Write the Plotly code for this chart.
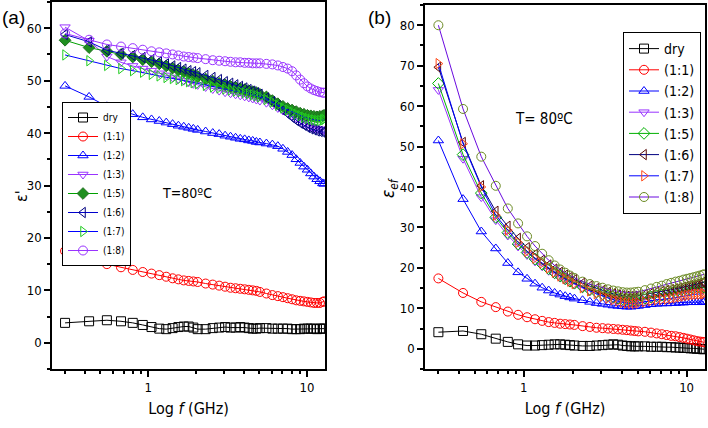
import plotly.graph_objects as go

# Frequency grid (GHz)
freq = [0.3, 0.425, 0.55, 0.675, 0.8, 0.925, 1.05, 1.175, 1.3, 1.425, 1.55, 1.675, 1.8, 1.925, 2.05,
        2.3, 2.55, 2.8, 3.05, 3.3, 3.55, 3.8, 4.05, 4.3, 4.55, 4.8, 5.05,
        5.55, 6.05, 6.55, 7.05, 7.55, 8.05, 8.55, 9.05, 9.55, 10.05, 10.55, 11.05, 11.55, 12.05, 12.55,
        12.8]

labels = ["dry", "(1:1)", "(1:2)", "(1:3)", "(1:5)", "(1:6)", "(1:7)", "(1:8)"]

# Panel (a): epsilon'
a_dry = [3.8, 4.1, 4.3, 4.1, 3.8, 3.4, 3.0, 2.7, 2.6, 2.8, 3.0, 3.1, 3.1, 2.9, 2.6,
         2.6, 2.8, 2.9, 3.0, 2.9, 2.9, 3.0, 2.9, 2.8, 2.7, 2.7, 2.8,
         2.8, 2.7, 2.7, 2.7, 2.7, 2.6, 2.6, 2.6, 2.7, 2.7, 2.7, 2.7, 2.6, 2.7, 2.7,
         2.7]
a_11 = [17.5, 16.0, 15.0, 14.4, 13.9, 13.5, 13.2, 12.9, 12.6, 12.3, 12.1, 11.9, 11.8, 11.7, 11.6,
        11.3, 11.1, 10.9, 10.7, 10.5, 10.4, 10.3, 10.2, 10.1, 10.0, 9.9, 9.7,
        9.4, 9.1, 8.9, 8.7, 8.5, 8.3, 8.1, 8.0, 7.9, 7.8, 7.7, 7.6, 7.6, 7.6, 7.8,
        7.9]
a_12 = [49.0, 46.9, 45.1, 44.2, 43.6, 43.0, 42.6, 42.3, 42.0, 41.7, 41.4, 41.2, 41.0, 40.8, 40.6,
        40.3, 40.0, 39.8, 39.5, 39.3, 39.1, 38.9, 38.8, 38.6, 38.5, 38.3, 38.2,
        38.0, 37.8, 37.5, 37.0, 36.4, 35.8, 35.0, 34.3, 33.6, 33.0, 32.3, 31.7, 31.2, 30.8, 30.4,
        30.3]
a_13 = [60.2, 57.6, 54.6, 53.5, 52.8, 52.3, 51.9, 51.4, 51.0, 50.6, 50.3, 50.0, 49.7, 49.4, 49.2,
        48.8, 48.4, 48.1, 47.8, 47.6, 47.4, 47.2, 47.0, 46.8, 46.6, 46.4, 46.2,
        45.8, 45.3, 44.8, 44.3, 43.8, 43.3, 42.8, 42.3, 41.9, 41.5, 41.2, 41.0, 40.8, 40.7, 40.6,
        40.6]
a_15 = [57.7, 56.3, 55.6, 55.0, 54.5, 54.0, 53.6, 53.2, 52.8, 52.4, 52.0, 51.7, 51.4, 51.1, 50.8,
        50.3, 49.9, 49.5, 49.2, 48.9, 48.7, 48.5, 48.3, 48.1, 47.9, 47.7, 47.4,
        46.9, 46.2, 45.6, 45.1, 44.7, 44.4, 44.1, 43.8, 43.6, 43.4, 43.3, 43.2, 43.1, 43.2, 43.3,
        43.4]
a_16 = [58.8, 57.4, 55.8, 55.2, 54.8, 54.4, 54.0, 53.6, 53.2, 52.8, 52.5, 52.2, 51.9, 51.7, 51.5,
        51.0, 50.6, 50.2, 49.8, 49.5, 49.2, 48.9, 48.6, 48.3, 48.0, 47.7, 47.4,
        46.7, 46.0, 45.2, 44.4, 43.7, 43.0, 42.4, 41.9, 41.5, 41.1, 40.8, 40.6, 40.4, 40.3, 40.2,
        40.2]
a_17 = [54.9, 53.8, 52.9, 52.3, 51.9, 51.6, 51.2, 50.9, 50.6, 50.4, 50.2, 50.0, 49.8, 49.6, 49.4,
        49.1, 48.8, 48.6, 48.4, 48.2, 48.0, 47.9, 47.7, 47.5, 47.3, 47.1, 46.9,
        46.4, 45.9, 45.3, 44.8, 44.4, 44.0, 43.6, 43.3, 43.0, 42.8, 42.6, 42.5, 42.4, 42.4, 42.5,
        42.6]
a_18 = [59.0, 57.8, 56.9, 56.5, 56.2, 55.9, 55.6, 55.4, 55.2, 55.0, 54.8, 54.6, 54.5, 54.4, 54.3,
        54.1, 53.9, 53.8, 53.7, 53.6, 53.5, 53.5, 53.4, 53.4, 53.3, 53.3, 53.3,
        53.2, 53.1, 52.9, 52.6, 52.3, 51.8, 51.0, 50.2, 49.5, 48.9, 48.5, 48.2, 48.0, 47.8, 47.7,
        47.7]

# Panel (b): epsilon_ef
b_dry = [4.1, 4.4, 3.6, 2.5, 1.7, 1.1, 0.8, 0.8, 0.9, 1.0, 1.1, 1.1, 1.0, 0.9, 0.8,
         0.7, 0.7, 0.8, 0.9, 1.0, 1.1, 1.0, 0.8, 0.7, 0.6, 0.6, 0.6,
         0.6, 0.5, 0.5, 0.5, 0.4, 0.4, 0.3, 0.3, 0.2, 0.2, 0.1, 0.1, 0.0, 0.0, -0.1,
         -0.1]
b_11 = [17.4, 13.8, 11.6, 10.3, 9.2, 8.4, 7.8, 7.3, 6.9, 6.6, 6.4, 6.2, 6.1, 6.0, 5.9,
        5.6, 5.4, 5.2, 5.1, 5.0, 4.9, 4.8, 4.7, 4.6, 4.5, 4.4, 4.3,
        4.2, 4.0, 3.8, 3.6, 3.4, 3.2, 3.1, 2.9, 2.7, 2.5, 2.3, 2.1, 1.9, 1.8, 1.7,
        1.6]
b_12 = [51.5, 37.0, 29.0, 24.8, 21.2, 18.9, 17.3, 16.1, 15.1, 14.4, 13.8, 13.4, 13.0, 12.7, 12.4,
        12.0, 11.6, 11.3, 11.1, 10.9, 10.7, 10.6, 10.5, 10.4, 10.4, 10.5, 10.6,
        10.8, 11.0, 11.1, 11.2, 11.2, 11.3, 11.3, 11.4, 11.4, 11.5, 11.5, 11.5, 11.5, 11.5, 11.6,
        11.6]
b_13 = [64.0, 47.0, 37.5, 31.8, 28.0, 25.3, 23.2, 21.6, 20.4, 19.3, 18.4, 17.6, 17.0, 16.4, 15.9,
        15.0, 14.3, 13.7, 13.2, 12.8, 12.5, 12.2, 12.0, 11.9, 11.8, 11.8, 11.9,
        12.2, 12.5, 12.8, 13.0, 13.2, 13.4, 13.6, 13.8, 14.0, 14.2, 14.4, 14.6, 14.8, 15.0, 15.1,
        15.2]
b_15 = [65.6, 48.0, 38.5, 32.5, 28.7, 25.9, 23.8, 22.2, 20.9, 19.8, 18.8, 18.0, 17.3, 16.7, 16.2,
        15.3, 14.6, 14.0, 13.5, 13.1, 12.8, 12.5, 12.3, 12.2, 12.1, 12.1, 12.2,
        12.5, 12.8, 13.1, 13.3, 13.5, 13.7, 13.9, 14.1, 14.3, 14.5, 14.7, 14.9, 15.0, 15.1, 15.2,
        15.2]
b_16 = [69.6, 51.0, 40.3, 34.0, 30.3, 27.3, 25.0, 23.3, 21.9, 20.7, 19.7, 18.9, 18.2, 17.6, 17.1,
        16.2, 15.5, 14.9, 14.4, 14.0, 13.6, 13.3, 13.1, 13.0, 12.9, 13.0, 13.1,
        13.4, 13.7, 14.0, 14.2, 14.4, 14.6, 14.8, 15.0, 15.2, 15.4, 15.6, 15.8, 16.0, 16.2, 16.4,
        16.5]
b_17 = [70.5, 50.7, 40.0, 33.0, 29.3, 26.3, 24.1, 22.4, 21.2, 20.0, 18.9, 18.0, 17.3, 16.7, 16.1,
        15.1, 14.3, 13.6, 13.0, 12.5, 12.1, 11.8, 11.5, 11.3, 11.2, 11.2, 11.3,
        11.6, 11.9, 12.1, 12.2, 12.3, 12.4, 12.6, 12.8, 13.0, 13.2, 13.3, 13.4, 13.5, 13.5, 13.6,
        13.6]
b_18 = [80.0, 59.3, 47.5, 40.3, 34.7, 31.0, 27.8, 25.4, 23.5, 21.9, 20.6, 19.6, 18.8, 18.1, 17.5,
        16.6, 16.0, 15.5, 15.1, 14.7, 14.4, 14.2, 14.0, 13.9, 13.9, 14.0, 14.1,
        14.5, 14.9, 15.3, 15.6, 16.0, 16.3, 16.6, 16.8, 17.1, 17.3, 17.5, 17.7, 17.9, 18.1, 18.3,
        18.4]

a_series = [a_dry, a_11, a_12, a_13, a_15, a_16, a_17, a_18]
b_series = [b_dry, b_11, b_12, b_13, b_15, b_16, b_17, b_18]

# style: (line colour, marker colour, symbol, marker fill)
a_style = [
    ("#000000", "#000000", "square-open", None),
    ("#ff0000", "#ff0000", "circle-open", None),
    ("#0000ff", "#0000ff", "triangle-up-open", None),
    ("#9933ff", "#9933ff", "triangle-down-open", None),
    ("#00a000", "#1f6f1f", "diamond", "#1f8f1f"),
    ("#0000cc", "#000080", "triangle-left-open", None),
    ("#0000ff", "#22cc22", "triangle-right-open", None),
    ("#9933ff", "#9933ff", "circle-open", None),
]
b_style = [
    ("#000000", "#000000", "square-open", None),
    ("#ff0000", "#ff0000", "circle-open", None),
    ("#0000ff", "#0000ff", "triangle-up-open", None),
    ("#9933ff", "#9933ff", "triangle-down-open", None),
    ("#00b000", "#00b000", "diamond-open", None),
    ("#000080", "#5a0a0a", "triangle-left-open", None),
    ("#0000ff", "#ff4a1a", "triangle-right-open", None),
    ("#6a0adf", "#6b8a23", "circle-open", None),
]

FONT = "Liberation Sans Narrow, DejaVu Sans Condensed, Liberation Sans, Arial, sans-serif"

fig = go.Figure()

def add(series, styles, xa, ya, leg, msize):
    for name, ys, (lc, mc, sym, fill) in zip(labels, series, styles):
        marker = dict(symbol=sym, size=msize, color=fill if fill else mc,
                      line=dict(color=mc, width=1))
        fig.add_trace(go.Scatter(x=freq, y=ys, name=name, mode="lines+markers",
                                 line=dict(color=lc, width=1), marker=marker,
                                 xaxis=xa, yaxis=ya, legend=leg))

add(a_series, a_style, "x", "y", "legend", 9)
add(b_series, b_style, "x2", "y2", "legend2", 9)

minor_x = [0.3, 0.4, 0.5, 0.6, 0.7, 0.8, 0.9, 2, 3, 4, 5, 6, 7, 8, 9]

def xaxis(domain, anchor):
    return dict(domain=domain, anchor=anchor, type="log", range=[-0.605, 1.113],
                automargin=False,
                tickvals=[1, 10], ticktext=["1", "10"], ticks="outside", ticklen=6,
                tickwidth=1.5, tickcolor="black",
                minor=dict(tickvals=minor_x, ticklen=3, tickcolor="black", ticks="outside"),
                showline=True, linecolor="black", linewidth=1.5, mirror=True,
                showgrid=False, zeroline=False,
                tickfont=dict(family=FONT, size=13, color="black"),
                title=dict(text="Log <i>f</i> (GHz)", font=dict(family=FONT, size=16, color="black"),
                           standoff=8))

def yaxis(domain, anchor, rng, tv):
    return dict(domain=domain, anchor=anchor, range=rng, tickvals=tv, automargin=False,
                ticks="outside", ticklen=6, tickwidth=1.5, tickcolor="black",
                minor=dict(dtick=5, ticklen=3, tickcolor="black", ticks="outside"),
                showline=True, linecolor="black", linewidth=1.5, mirror=True,
                showgrid=False, zeroline=False,
                tickfont=dict(family=FONT, size=13, color="black"))

fig.update_layout(
    width=708, height=428, margin=dict(l=0, r=0, t=0, b=0, autoexpand=False),
    paper_bgcolor="white", plot_bgcolor="white",
    xaxis=xaxis([52/708, 325/708], "y"),
    yaxis=yaxis([1-369/428, 1-2/428], "x", [-5, 65], [0, 10, 20, 30, 40, 50, 60]),
    xaxis2=xaxis([425/708, 705/708], "y2"),
    yaxis2=yaxis([1-369/428, 1-5/428], "x2", [-5, 85], [0, 10, 20, 30, 40, 50, 60, 70, 80]),
    legend=dict(x=62/708, y=1-102/428, xanchor="left", yanchor="top",
                bordercolor="black", borderwidth=1, bgcolor="white",
                font=dict(family=FONT, size=10, color="black"),
                itemwidth=30, tracegroupgap=0),
    legend2=dict(x=623/708, y=1-32/428, xanchor="left", yanchor="top",
                 bordercolor="black", borderwidth=1, bgcolor="white",
                 font=dict(family=FONT, size=14, color="black"),
                 itemwidth=30, tracegroupgap=0),
    showlegend=True,
)

ann = [
    dict(text="(a)", x=13/708, y=1-17/428, font=dict(family="Liberation Sans, Arial", size=19)),
    dict(text="(b)", x=379/708, y=1-17/428, font=dict(family="Liberation Sans, Arial", size=19)),
    dict(text="ε'", x=22/708, y=1-196/428, textangle=-90, font=dict(family=FONT, size=16)),
    dict(text="<i>ε<sub>ef</sub></i>", x=390/708, y=1-188/428, textangle=-90,
         font=dict(family=FONT, size=17)),
    dict(text="T=80ºC", x=187/708, y=1-193/428, font=dict(family=FONT, size=14)),
    dict(text="T= 80ºC", x=544/708, y=1-119/428, font=dict(family=FONT, size=15)),
]
for a in ann:
    a.update(xref="paper", yref="paper", showarrow=False, xanchor="center", yanchor="middle")
    a["font"]["color"] = "black"
fig.update_layout(annotations=ann)

# remove the browser's default 8px page margin so the 708x428 figure fills the window exactly
fig.write_html("out.html", config={"displayModeBar": False},
               post_script="document.body.style.margin='0';")
